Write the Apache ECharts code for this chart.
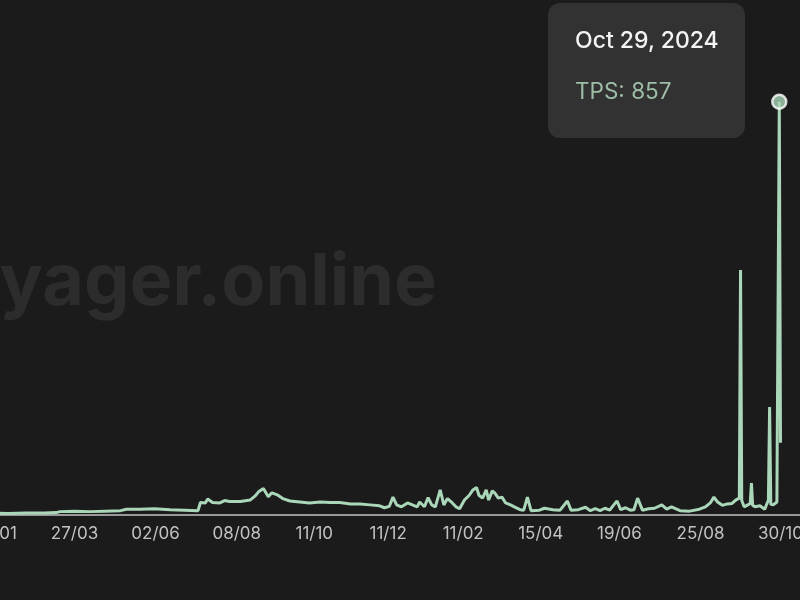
<!DOCTYPE html>
<html>
<head>
<meta charset="utf-8">
<script src="https://cdn.jsdelivr.net/npm/echarts@6/dist/echarts.min.js"></script>
<style>
html,body{margin:0;padding:0;background:#1b1b1b;overflow:hidden;width:800px;height:600px;}
#chart{position:absolute;left:-66px;top:0;width:872px;height:600px;}
</style>
</head>
<body>
<div id="chart"></div>
<script>
// ---- data ----
const dates = [
 '2023-01-01','2023-01-16','2023-01-31','2023-02-15','2023-03-02','2023-03-12','2023-03-15','2023-03-27',
 '2023-04-09','2023-04-21','2023-05-04','2023-05-09','2023-05-20','2023-06-01','2023-06-14','2023-06-26',
 '2023-07-07','2023-07-09','2023-07-13','2023-07-15','2023-07-19','2023-07-25','2023-07-29','2023-08-02',
 '2023-08-11','2023-08-19','2023-08-23','2023-08-26','2023-08-30','2023-09-03','2023-09-06','2023-09-11',
 '2023-09-15','2023-09-21','2023-09-29','2023-10-07','2023-10-16','2023-10-24','2023-11-01','2023-11-10',
 '2023-11-18','2023-11-26','2023-12-04','2023-12-08','2023-12-12','2023-12-15','2023-12-18','2023-12-22',
 '2023-12-27','2023-12-31','2024-01-04','2024-01-06','2024-01-10','2024-01-13','2024-01-16','2024-01-19',
 '2024-01-23','2024-01-26','2024-01-29','2024-02-02','2024-02-05','2024-02-08','2024-02-12','2024-02-16',
 '2024-02-19','2024-02-22','2024-02-24','2024-02-27','2024-03-01','2024-03-03','2024-03-06','2024-03-08',
 '2024-03-11','2024-03-14','2024-03-17','2024-03-21','2024-03-25','2024-03-29','2024-04-01','2024-04-04',
 '2024-04-07','2024-04-14','2024-04-18','2024-04-25','2024-05-01','2024-05-07','2024-05-10','2024-05-16',
 '2024-05-22','2024-05-26','2024-05-30','2024-06-03','2024-06-07','2024-06-11','2024-06-14','2024-06-17',
 '2024-06-20','2024-06-24','2024-06-28','2024-07-01','2024-07-04','2024-07-08','2024-07-13','2024-07-18',
 '2024-07-24','2024-07-28','2024-08-01','2024-08-08','2024-08-16','2024-08-24','2024-08-29','2024-09-02',
 '2024-09-05','2024-09-08','2024-09-12','2024-09-16','2024-09-20','2024-09-23','2024-09-26','2024-09-27',
 '2024-09-28','2024-09-30','2024-10-03','2024-10-05','2024-10-06','2024-10-07','2024-10-09','2024-10-13',
 '2024-10-17','2024-10-19','2024-10-20','2024-10-21','2024-10-22','2024-10-24','2024-10-27','2024-10-28',
 '2024-10-29','2024-10-30'
];
const tps = [
 4,4,3,4,4,5,7,8,
 7,8,9,12,12,13,11,10,
 9,26,25,33,26,25,30,28,
 28,31,39,48,55,38,46,41,
 34,29,27,25,27,26,26,23,
 23,21,19,15,18,37,21,17,
 25,21,17,27,17,36,21,17,
 52,21,34,25,17,13,31,41,
 52,57,41,35,52,31,50,46,
 35,37,25,21,16,11,10,37,
 9,10,14,11,10,29,10,11,
 16,9,13,9,14,10,20,29,
 11,15,10,11,35,10,13,14,
 21,12,17,9,8,12,17,25,
 37,27,20,23,24,31,35,508,
 30,17,21,24,66,20,17,19,
 12,25,30,224,22,21,27,30,
 857,150
];
const tickDates = ['2023-01-20','2023-03-27','2023-06-02','2023-08-08','2023-10-11','2023-12-11',
                   '2024-02-11','2024-04-15','2024-06-19','2024-08-25','2024-10-30'];
const axisMin = '2022-12-01';
const axisMax = '2024-11-20';
const highlightDate = '2024-10-29';
const seriesName = 'TPS';
const watermark = 'Voyager.online';

function toTime(s){ const p = s.split('-').map(Number); return new Date(p[0], p[1]-1, p[2]).getTime(); }
function pad(n){ return (n < 10 ? '0' : '') + n; }
const MONTHS = ['Jan','Feb','Mar','Apr','May','Jun','Jul','Aug','Sep','Oct','Nov','Dec'];

const lineData = dates.map((d, i) => [toTime(d), tps[i]]);
const hi = dates.indexOf(highlightDate);
const hiData = [[toTime(dates[hi]), tps[hi]]];

const chart = echarts.init(document.getElementById('chart'), null, {renderer: 'canvas'});
chart.setOption({
  backgroundColor: '#1b1b1b',
  animation: false,
  grid: {left: 0, right: 0, top: 81, bottom: 85, containLabel: false},
  xAxis: {
    type: 'value',
    min: toTime(axisMin),
    max: toTime(axisMax),
    splitLine: {show: false},
    axisTick: {show: false},
    axisLine: {show: true, lineStyle: {color: '#999999', width: 2}},
    axisLabel: {
      customValues: tickDates.map(toTime),
      color: '#c2c2c2',
      fontSize: 17,
      fontFamily: 'Inter',
      margin: 10,
      hideOverlap: false,
      formatter: function (v) { const d = new Date(v); return pad(d.getDate()) + '/' + pad(d.getMonth() + 1); }
    }
  },
  yAxis: {type: 'value', min: 0, max: 900, show: false, splitLine: {show: false}},
  tooltip: {
    trigger: 'item',
    alwaysShowContent: true,
    position: [614, 3],
    transitionDuration: 0,
    backgroundColor: '#323232',
    borderWidth: 0,
    borderRadius: 12,
    padding: [22, 27, 32, 27],
    extraCssText: 'box-shadow:none;width:143px;',
    formatter: function (p) {
      const d = new Date(p.value[0]);
      const title = MONTHS[d.getMonth()] + ' ' + d.getDate() + ', ' + d.getFullYear();
      return '<div style="font-family:Inter;font-size:23px;font-weight:500;color:#f4f4f4;line-height:30px;white-space:nowrap;">' + title + '</div>' +
             '<div style="font-family:Inter;font-size:22.5px;color:#9dbda6;line-height:30px;margin-top:21px;white-space:nowrap;">' + seriesName + ': ' + p.value[1] + '</div>';
    }
  },
  graphic: [{
    type: 'text', z: 0, silent: true,
    style: {text: watermark, x: 503, y: 283, align: 'right', verticalAlign: 'middle',
            font: 'bold 72px Inter', fill: '#2c2c2c'}
  }],
  series: [{
    type: 'line', name: seriesName, data: lineData, showSymbol: false, z: 3,
    lineStyle: {color: '#aad6b9', width: 3}, itemStyle: {color: '#aad6b9'},
    emphasis: {disabled: true}, tooltip: {show: false}
  }, {
    type: 'scatter', name: seriesName, data: hiData, z: 5,
    symbol: 'circle', symbolSize: 14,
    itemStyle: {color: '#a9d4b6', borderColor: '#ffffff', borderWidth: 2.5},
    emphasis: {disabled: true}
  }]
});
chart.dispatchAction({type: 'showTip', seriesIndex: 1, dataIndex: 0});
</script>
</body>
</html>
